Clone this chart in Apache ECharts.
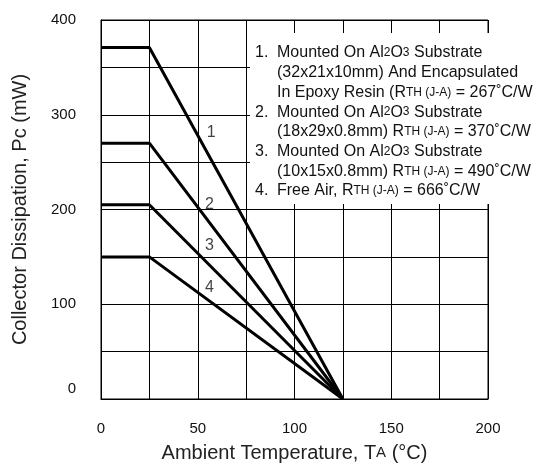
<!DOCTYPE html>
<html>
<head>
<meta charset="utf-8">
<script src="https://cdn.jsdelivr.net/npm/echarts@6/dist/echarts.min.js"></script>
<style>
  html, body { margin: 0; padding: 0; background: #fff; }
  #chart { width: 538px; height: 468px; }
</style>
</head>
<body>
<div id="chart"></div>
<script>
// derating curves: [Ta, Pc]
const curve1 = [[0, 371], [25, 371], [125, 0]];
const curve2 = [[0, 270], [25, 270], [125, 0]];
const curve3 = [[0, 205], [25, 205], [125, 0]];
const curve4 = [[0, 150], [25, 150], [125, 0]];
// curve number labels
const curveTags = [[57, 281, "1"], [56, 205, "2"], [56, 162, "3"], [56, 118, "4"]];
const xTicks = [0, 50, 100, 150, 200];
const yTicks = [0, 100, 200, 300, 400];

const FONT = "Liberation Sans";
const sub = { fontSize: 12, fontFamily: FONT, color: "#111" };

function line(data) {
  return {
    type: "line",
    data: data,
    symbol: "none",
    z: 3,
    lineStyle: { color: "#000", width: 3 }
  };
}

// legend text lines
const notes = [
  ["1.", "Mounted On Al{s|2}O{s|3} Substrate"],
  ["", "(32x21x10mm) And Encapsulated"],
  ["", "In Epoxy Resin (R{s|TH (J-A)} = 267˚C/W"],
  ["2.", "Mounted On Al{s|2}O{s|3} Substrate"],
  ["", "(18x29x0.8mm) R{s|TH (J-A)} = 370˚C/W"],
  ["3.", "Mounted On Al{s|2}O{s|3} Substrate"],
  ["", "(10x15x0.8mm) R{s|TH (J-A)} = 490˚C/W"],
  ["4.", "Free Air, R{s|TH (J-A)} = 666˚C/W"]
];

const noteGraphics = [{
  type: "rect",
  shape: { x: 250, y: 33, width: 288, height: 171 },
  style: { fill: "#fff" },
  z: 1
}];
notes.forEach((n, i) => {
  const y = 53 + i * 19.7;
  if (n[0]) {
    noteGraphics.push({
      type: "text", x: 255, y: y, z: 2,
      style: { text: n[0], font: "16px " + FONT, fill: "#111", verticalAlign: "middle" }
    });
  }
  noteGraphics.push({
    type: "text", x: 277, y: y, z: 2,
    style: {
      text: n[1], fontSize: 16, fontFamily: FONT, fill: "#111",
      verticalAlign: "middle", rich: { s: sub }
    }
  });
});

const chart = echarts.init(document.getElementById("chart"));
chart.setOption({
  animation: false,
  grid: {
    left: 101, right: 50, top: 20, bottom: 65,
    show: true, borderColor: "#000", borderWidth: 1
  },
  xAxis: {
    type: "value",
    min: 0, max: 200, interval: 25,
    name: "Ambient Temperature, T{s|A} (°C)",
    nameLocation: "middle",
    nameGap: 44,
    nameTextStyle: {
      fontSize: 20, fontFamily: FONT, color: "#222",
      rich: { s: { fontSize: 15, fontFamily: FONT, color: "#222" } }
    },
    axisLine: { lineStyle: { color: "#000", width: 1 } },
    axisTick: { show: false },
    splitLine: { lineStyle: { color: "#000", width: 1 } },
    axisLabel: {
      margin: 22, fontSize: 15, fontFamily: FONT, color: "#111",
      formatter: v => (xTicks.indexOf(v) >= 0 ? String(v) : "")
    }
  },
  yAxis: {
    type: "value",
    min: 0, max: 400, interval: 50,
    name: "Collector Dissipation, P{s|c} (mW)",
    nameLocation: "middle",
    nameGap: 71,
    nameTextStyle: {
      fontSize: 20, fontFamily: FONT, color: "#222",
      rich: { s: { fontSize: 20, fontFamily: FONT, color: "#222" } }
    },
    axisLine: { show: true, lineStyle: { color: "#000", width: 1 } },
    axisTick: { show: false },
    splitLine: { lineStyle: { color: "#000", width: 1 } },
    axisLabel: {
      margin: 25, fontSize: 15, fontFamily: FONT, color: "#111",
      formatter: v => (v === 0 ? "{z|0}" : (yTicks.indexOf(v) >= 0 ? String(v) : "")),
      rich: { z: { fontSize: 15, fontFamily: FONT, color: "#111", padding: [0, 0, 20, 0] } }
    }
  },
  series: [
    line(curve1), line(curve2), line(curve3), line(curve4),
    {
      type: "scatter",
      data: curveTags,
      symbolSize: 0,
      z: 4,
      label: {
        show: true, position: "inside",
        formatter: p => p.value[2],
        fontSize: 16, fontFamily: FONT, color: "#111"
      }
    }
  ],
  graphic: noteGraphics
});
</script>
</body>
</html>
